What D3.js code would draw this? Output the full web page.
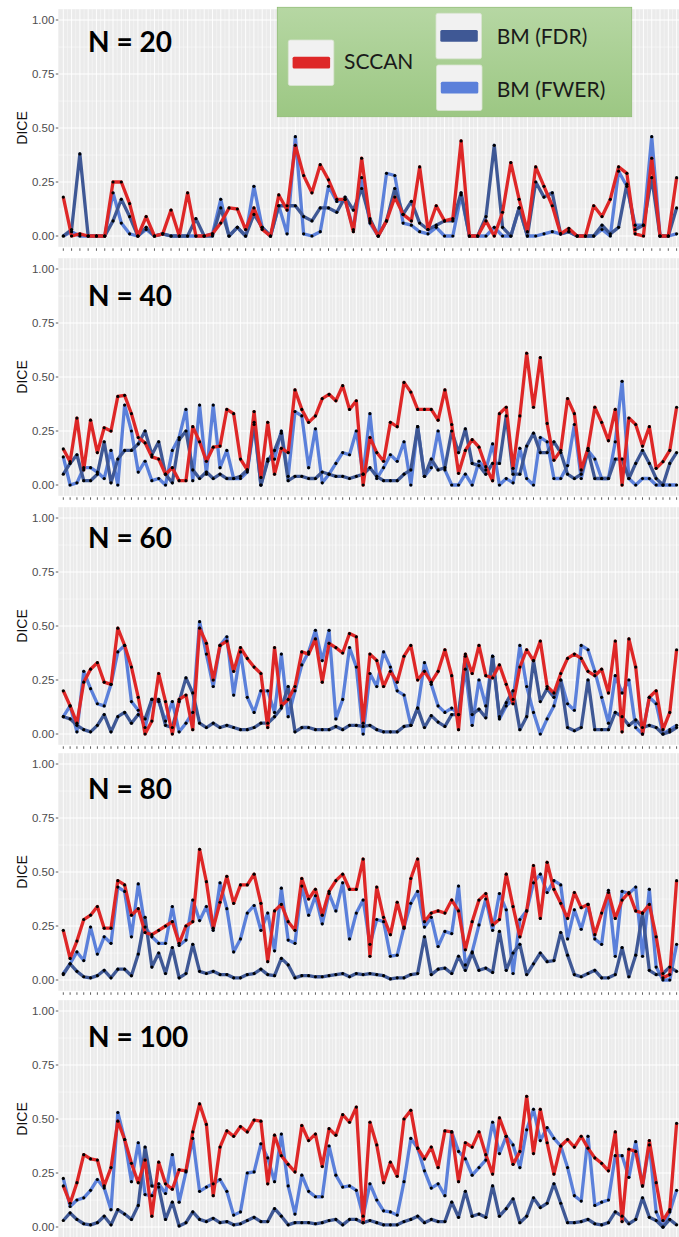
<!DOCTYPE html>
<html>
<head>
<meta charset="utf-8">
<script src="https://cdn.jsdelivr.net/npm/d3@7"></script>
<style>
  body { margin: 0; background: #fff; }
  svg { display: block; }
</style>
</head>
<body>
<div id="chart"></div>
<script>
const panelLabels = ["N = 20", "N = 40", "N = 60", "N = 80", "N = 100"];
const yTicks = [0, 0.25, 0.5, 0.75, 1];
const seriesNames = ["SCCAN", "BM (FDR)", "BM (FWER)"];

// N = 20 (75 runs)
const sccan20 = [0.18, 0, 0.01, 0, 0, 0, 0.25, 0.25, 0.15, 0, 0.09, 0, 0.01, 0.12, 0, 0.20, 0, 0, 0.01, 0.06, 0.13, 0.125, 0.03, 0.13, 0.03, 0, 0.19, 0.12, 0.42, 0.28, 0.20, 0.33, 0.26, 0.17,
  0.17, 0.02, 0.36, 0.07, 0, 0.07, 0.18, 0.10, 0.07, 0.32, 0.03, 0.14, 0.07, 0.08, 0.44, 0, 0, 0.07, 0, 0.11, 0.34, 0.17, 0.02, 0.32, 0.23, 0.14, 0.01, 0.035, 0, 0, 0.14, 0.09, 0.17, 0.32, 0.29, 0.01, 0, 0.36, 0, 0, 0.27];
const fdr20 = [0, 0.03, 0.38, 0, 0, 0, 0.07, 0.17, 0.09, 0, 0.04, 0, 0.01, 0, 0, 0, 0.08, 0, 0, 0.13, 0, 0.04, 0, 0.10, 0.04, 0, 0.14, 0.14, 0.14, 0.09, 0.07, 0.13, 0.13, 0.11,
  0.18, 0.12, 0.22, 0.08, 0, 0.07, 0.22, 0.10, 0.16, 0.06, 0.03, 0.05, 0.07, 0.07, 0.20, 0, 0, 0.09, 0.42, 0.04, 0, 0.13, 0, 0.25, 0.18, 0.20, 0.01, 0.02, 0, 0, 0, 0.05, 0.01, 0.04, 0.24, 0.03, 0.05, 0.27, 0, 0, 0.13];
const fwer20 = [0, 0.02, 0, 0, 0, 0, 0.20, 0.06, 0.01, 0, 0.03, 0, 0.01, 0, 0, 0, 0, 0, 0.01, 0.17, 0, 0.04, 0, 0.23, 0.04, 0, 0.14, 0.01, 0.46, 0.01, 0, 0.02, 0.23, 0.16,
  0.17, 0.03, 0.27, 0.06, 0, 0.29, 0.28, 0.06, 0.05, 0.02, 0.01, 0.04, 0, 0, 0.19, 0, 0, 0, 0.04, 0, 0, 0.13, 0, 0, 0.01, 0.02, 0.01, 0.02, 0, 0, 0, 0.03, 0, 0.30, 0.23, 0.05, 0.05, 0.46, 0, 0, 0.01];

// N = 40 (91 runs)
const sccan40 = [0.167, 0.108, 0.31, 0.07, 0.30, 0.15, 0.265, 0.25, 0.41, 0.415, 0.33, 0.22, 0.195, 0.13, 0.12, 0.05, 0.08, 0.02, 0.02, 0.27, 0.2, 0.11, 0.175, 0.18, 0.35, 0.33, 0.12, 0.07, 0.34, 0.035, 0.29, 0.05, 0.17, 0.15, 0.44, 0.35, 0.29, 0.32, 0.40, 0.42, 0.39,
  0.46, 0.35, 0.39, 0, 0.22, 0.15, 0.11, 0.29, 0.27, 0.475, 0.43, 0.35, 0.35, 0.35, 0.30, 0.44, 0.28, 0.054, 0.16, 0.21, 0.175, 0.085, 0.02, 0.33, 0.36, 0.077, 0.32, 0.61, 0.36, 0.59, 0.285, 0.115, 0.16, 0.40, 0.33, 0.07, 0.17, 0.36, 0.29, 0.205, 0.35, 0, 0.31, 0.28, 0.18, 0.27, 0.077, 0.108, 0.16, 0.36];
const fdr40 = [0.05, 0.1, 0.14, 0.02, 0.02, 0.05, 0.2, 0.01, 0.12, 0.16, 0.16, 0.19, 0.25, 0.14, 0.2, 0.05, 0.01, 0.21, 0.25, 0.07, 0.03, 0.06, 0.03, 0.05, 0.03, 0.03, 0.04, 0.07, 0.29, 0, 0.11, 0.16, 0.24, 0.02, 0.04, 0.04, 0.03, 0.03, 0.06, 0.05, 0.04,
  0.04, 0.03, 0.04, 0.05, 0.08, 0.04, 0.02, 0.02, 0.02, 0.05, 0.07, 0.27, 0.04, 0.12, 0.07, 0.08, 0.25, 0.15, 0.26, 0.1, 0.09, 0.05, 0.1, 0.1, 0.32, 0.05, 0.05, 0.18, 0.24, 0.15, 0.15, 0.2, 0.15, 0.05, 0.03, 0.05, 0.16, 0.03, 0.03, 0.03, 0.12, 0.12, 0.03, 0.1, 0.16, 0.1, 0.03, 0, 0.1, 0.15];
const fwer40 = [0.13, 0, 0.01, 0.08, 0.08, 0.06, 0.03, 0.16, 0, 0.37, 0.25, 0.06, 0.11, 0.02, 0.03, 0, 0.16, 0.22, 0.35, 0.02, 0.37, 0.05, 0.37, 0.08, 0.16, 0.03, 0.03, 0.06, 0.28, 0, 0.12, 0.12, 0.25, 0.04, 0.34, 0.32, 0.08, 0.26, 0.01, 0.05, 0.10,
  0.15, 0.14, 0.25, 0.05, 0.33, 0.03, 0.08, 0.14, 0.11, 0.2, 0, 0.27, 0.04, 0.08, 0.25, 0.07, 0, 0, 0.05, 0, 0.11, 0.07, 0.19, 0, 0.03, 0.01, 0.17, 0.03, 0, 0.22, 0.2, 0.03, 0.03, 0.09, 0.28, 0.03, 0.16, 0.12, 0.03, 0.03, 0.2, 0.48, 0.03, 0, 0.03, 0.03, 0, 0, 0, 0];

// N = 60
const sccan60 = [0.2, 0.13, 0.05, 0.24, 0.3, 0.33, 0.24, 0.23, 0.49, 0.41, 0.31, 0.17, 0, 0.06, 0.28, 0.15, 0, 0.16, 0.18, 0.02, 0.49, 0.42, 0.25, 0.41, 0.43, 0.29, 0.4, 0.35, 0.31, 0.28, 0.03, 0.4, 0.13, 0.16, 0.22, 0.38, 0.37, 0.44, 0.24, 0.42, 0.4,
  0.375, 0.465, 0.45, 0.05, 0.37, 0.34, 0.22, 0.29, 0.24, 0.36, 0.41, 0.25, 0.29, 0.24, 0.29, 0.39, 0.27, 0.02, 0.37, 0.28, 0.41, 0.27, 0.26, 0.32, 0.23, 0.14, 0.31, 0.39, 0.34, 0.43, 0.22, 0.19, 0.28, 0.35, 0.37, 0.35, 0.29, 0.27, 0.3, 0.19, 0.43, 0.01, 0.44, 0.31, 0, 0.17, 0.2, 0.02, 0.1, 0.39];
const fdr60 = [0.08, 0.07, 0.04, 0.02, 0.01, 0.04, 0.09, 0.01, 0.08, 0.1, 0.05, 0.09, 0.07, 0.16, 0.16, 0.04, 0.03, 0.15, 0.26, 0.19, 0.05, 0.03, 0.05, 0.03, 0.04, 0.03, 0.02, 0.02, 0.03, 0.05, 0.05, 0.08, 0.12, 0.22, 0.01, 0.03, 0.03, 0.02, 0.02, 0.02, 0.035,
  0.02, 0.04, 0.04, 0.035, 0.04, 0.02, 0.01, 0.01, 0.01, 0.035, 0.04, 0.12, 0.03, 0.085, 0.055, 0.035, 0.09, 0.09, 0.36, 0.09, 0.115, 0.075, 0.36, 0.08, 0.145, 0.2, 0.02, 0.08, 0.34, 0.15, 0.21, 0.17, 0.25, 0.03, 0.015, 0.03, 0.25, 0.02, 0.02, 0.02, 0.1, 0.08, 0.04, 0.065, 0.03, 0.04, 0.03, 0, 0.01, 0.03];
const fwer60 = [0.08, 0.13, 0.01, 0.29, 0.21, 0.14, 0.13, 0.23, 0.38, 0.41, 0.15, 0.11, 0.03, 0.16, 0.15, 0.06, 0.15, 0.01, 0.05, 0.1, 0.52, 0.37, 0.22, 0.41, 0.45, 0.18, 0.38, 0.17, 0.1, 0.2, 0.2, 0.1, 0.37, 0.08, 0.2, 0.32, 0.38, 0.48, 0.34, 0.48, 0.07,
  0.16, 0.40, 0.31, 0, 0.28, 0.22, 0.38, 0.31, 0.2, 0.18, 0.04, 0.12, 0.33, 0.23, 0.13, 0.1, 0.12, 0.09, 0.3, 0.04, 0.25, 0.13, 0.36, 0.07, 0.13, 0.16, 0.41, 0.22, 0.1, 0, 0.07, 0.13, 0.25, 0.14, 0.11, 0.41, 0.39, 0.29, 0.17, 0.05, 0.27, 0.19, 0.25, 0.03, 0, 0.17, 0.14, 0, 0.02, 0.04];

// N = 80
const sccan80 = [0.23, 0.1, 0.18, 0.28, 0.3, 0.34, 0.24, 0.24, 0.46, 0.44, 0.3, 0.33, 0.22, 0.21, 0.23, 0.25, 0.27, 0.17, 0.25, 0.27, 0.605, 0.455, 0.24, 0.36, 0.48, 0.355, 0.44, 0.44, 0.49, 0.355, 0.085, 0.32, 0.35, 0.27, 0.23, 0.47, 0.375, 0.42, 0.3, 0.41, 0.46,
  0.49, 0.42, 0.42, 0.56, 0.11, 0.43, 0.29, 0.21, 0.36, 0.24, 0.47, 0.56, 0.27, 0.31, 0.32, 0.31, 0.37, 0.32, 0.14, 0.27, 0.37, 0.4, 0.255, 0.28, 0.49, 0.34, 0.2, 0.32, 0.53, 0.285, 0.545, 0.42, 0.355, 0.285, 0.405, 0.335, 0.35, 0.21, 0.31, 0.405, 0.285, 0.37, 0.405, 0.32, 0.31, 0.35, 0.2, 0.01, 0.025, 0.46];
const fdr80 = [0.025, 0.075, 0.04, 0.015, 0.01, 0.02, 0.045, 0.01, 0.05, 0.05, 0.02, 0.12, 0.29, 0.06, 0.125, 0.03, 0.15, 0.01, 0.03, 0.165, 0.04, 0.03, 0.04, 0.025, 0.025, 0.01, 0.01, 0.025, 0.03, 0.05, 0.025, 0.02, 0.1, 0.07, 0.01, 0.02, 0.02, 0.015, 0.015, 0.02, 0.025,
  0.03, 0.015, 0.03, 0.025, 0.03, 0.025, 0.02, 0.005, 0.01, 0.01, 0.025, 0.03, 0.2, 0.025, 0.05, 0.055, 0.03, 0.11, 0.045, 0.125, 0.045, 0.055, 0.035, 0.225, 0.045, 0.125, 0.165, 0.025, 0.075, 0.125, 0.085, 0.09, 0.22, 0.115, 0.025, 0.015, 0.03, 0.045, 0.01, 0.01, 0.025, 0.15, 0.015, 0.115, 0.31, 0.045, 0.025, 0.03, 0.06, 0.04];
const fwer80 = [0.03, 0.075, 0.13, 0.09, 0.245, 0.12, 0.2, 0.17, 0.43, 0.41, 0.2, 0.445, 0.245, 0.2, 0.17, 0.17, 0.34, 0.16, 0.185, 0.37, 0.275, 0.34, 0.23, 0.45, 0.33, 0.13, 0.19, 0.31, 0.345, 0.23, 0.31, 0.135, 0.425, 0.185, 0.17, 0.435, 0.3, 0.39, 0.26, 0.4, 0.32,
  0.45, 0.19, 0.31, 0.37, 0.165, 0.28, 0.27, 0.11, 0.115, 0.245, 0.355, 0.41, 0.245, 0.29, 0.155, 0.225, 0.215, 0.435, 0.07, 0.13, 0.255, 0.375, 0.23, 0.4, 0.325, 0.03, 0.28, 0.32, 0.45, 0.49, 0.405, 0.46, 0.44, 0.19, 0.325, 0.235, 0.35, 0.19, 0.165, 0.415, 0.11, 0.41, 0.4, 0.43, 0.11, 0.42, 0.06, 0, 0, 0.165];

// N = 100
const sccan100 = [0.19, 0.11, 0.205, 0.335, 0.315, 0.31, 0.19, 0.275, 0.49, 0.405, 0.295, 0.205, 0.31, 0.05, 0.3, 0.2, 0.175, 0.265, 0.26, 0.44, 0.57, 0.475, 0.145, 0.37, 0.445, 0.42, 0.465, 0.44, 0.495, 0.49, 0.2, 0.425, 0.33, 0.29, 0.255, 0.47, 0.4, 0.43, 0.28, 0.455, 0.425,
  0.52, 0.485, 0.555, 0.02, 0.485, 0.38, 0.205, 0.3, 0.235, 0.5, 0.54, 0.365, 0.315, 0.37, 0.275, 0.445, 0.44, 0.21, 0.39, 0.37, 0.44, 0.335, 0.245, 0.505, 0.42, 0.29, 0.35, 0.605, 0.34, 0.545, 0.39, 0.245, 0.375, 0.405, 0.37, 0.42, 0.365, 0.32, 0.295, 0.26, 0.44, 0.025, 0.36, 0.35, 0.19, 0.4, 0.205, 0.03, 0.08, 0.48];
const fdr100 = [0.03, 0.065, 0.035, 0.015, 0.01, 0.02, 0.05, 0.01, 0.08, 0.06, 0.035, 0.1, 0.37, 0.19, 0.185, 0.035, 0.115, 0.005, 0.02, 0.07, 0.035, 0.025, 0.04, 0.02, 0.025, 0.01, 0.015, 0.03, 0.045, 0.025, 0.025, 0.085, 0.05, 0.01, 0.02, 0.02, 0.02, 0.015, 0.02, 0.03, 0.035,
  0.01, 0.035, 0.035, 0.02, 0.03, 0.02, 0.01, 0.01, 0.01, 0.025, 0.035, 0.05, 0.02, 0.035, 0.025, 0.025, 0.115, 0.045, 0.165, 0.05, 0.06, 0.045, 0.19, 0.05, 0.085, 0.13, 0.02, 0.05, 0.135, 0.09, 0.11, 0.2, 0.11, 0.02, 0.02, 0.025, 0.035, 0.015, 0.01, 0.02, 0.07, 0.05, 0.015, 0.035, 0.135, 0.045, 0.03, 0, 0.035, 0.01];
const fwer100 = [0.225, 0.095, 0.125, 0.135, 0.17, 0.22, 0.18, 0.08, 0.53, 0.405, 0.21, 0.39, 0.15, 0.145, 0.2, 0.155, 0.335, 0.115, 0.255, 0.41, 0.165, 0.185, 0.2, 0.22, 0.165, 0.055, 0.07, 0.25, 0.255, 0.385, 0.32, 0.21, 0.43, 0.19, 0.06, 0.24, 0.165, 0.14, 0.14, 0.375, 0.24,
  0.185, 0.19, 0.17, 0.05, 0.2, 0.125, 0.075, 0.07, 0.055, 0.21, 0.41, 0.365, 0.26, 0.18, 0.2, 0.145, 0.44, 0.35, 0.315, 0.24, 0.275, 0.31, 0.485, 0.34, 0.42, 0.38, 0.275, 0.45, 0.545, 0.4, 0.46, 0.41, 0.375, 0.275, 0.145, 0.12, 0.42, 0.1, 0.115, 0.125, 0.33, 0.33, 0.23, 0.395, 0.19, 0.38, 0.07, 0, 0.07, 0.17];

const colors = { sccan: "#de2727", fdr: "#3f5895", fwer: "#5b80da" };

// layout: pixel row of DICE = 0 for each panel, and title baselines
const panelZero = [236, 485, 734, 980, 1227];
const titleBaseline = [52, 306, 548, 799, 1047];
const plotLeft = 58.3, plotRight = 684;
const unit = 216;

const svg = d3.select("#chart")
    .append("svg")
    .attr("width", 679)
    .attr("height", 1237);

function CreateXScale(n) {
    return d3.scaleLinear()
        .domain([0, n - 1])
        .range([63.3, 676.6]);
};

function CreateYScale(zero) {
    return d3.scaleLinear()
        .domain([0, 1])
        .range([zero, zero - unit]);
};

function DrawPanel(panel, i) {
    const n = panel.sccan.length;
    const x = CreateXScale(n);
    const y = CreateYScale(panelZero[i]);
    const g = svg.append("g");
    const top = y(1.05), bottom = y(-0.05);

    g.append("rect")
        .attr("x", plotLeft)
        .attr("y", top)
        .attr("width", plotRight - plotLeft)
        .attr("height", bottom - top)
        .attr("fill", "#ebebeb");

    // minor grid (between breaks)
    const yMinor = d3.pairs(yTicks).map(([a, b]) => (a + b) / 2);
    g.selectAll(".hMinor")
        .data(yMinor)
        .join("line")
        .attr("x1", plotLeft).attr("x2", plotRight)
        .attr("y1", d => y(d)).attr("y2", d => y(d))
        .attr("stroke", "#fafafa")
        .attr("stroke-width", 0.6);

    const idx = d3.range(n);
    g.selectAll(".vMinor")
        .data(idx.slice(0, -1))
        .join("line")
        .attr("x1", d => x(d + 0.5)).attr("x2", d => x(d + 0.5))
        .attr("y1", top).attr("y2", bottom)
        .attr("stroke", "#f8f8f8")
        .attr("stroke-width", 0.6);

    g.selectAll(".vMajor")
        .data(idx)
        .join("line")
        .attr("x1", d => x(d)).attr("x2", d => x(d))
        .attr("y1", top).attr("y2", bottom)
        .attr("stroke", "#ffffff")
        .attr("stroke-width", 0.9);

    g.selectAll(".hMajor")
        .data(yTicks)
        .join("line")
        .attr("x1", plotLeft).attr("x2", plotRight)
        .attr("y1", d => y(d)).attr("y2", d => y(d))
        .attr("stroke", "#ffffff")
        .attr("stroke-width", 1.1);

    // axis ticks
    g.selectAll(".xTick")
        .data(idx)
        .join("line")
        .attr("x1", d => x(d)).attr("x2", d => x(d))
        .attr("y1", bottom + 1.5).attr("y2", bottom + 4)
        .attr("stroke", "#333")
        .attr("stroke-width", 0.8);

    g.selectAll(".yTick")
        .data(yTicks)
        .join("line")
        .attr("x1", plotLeft - 2.5).attr("x2", plotLeft)
        .attr("y1", d => y(d)).attr("y2", d => y(d))
        .attr("stroke", "#333")
        .attr("stroke-width", 0.8);

    g.selectAll(".yLabel")
        .data(yTicks)
        .join("text")
        .attr("x", plotLeft - 4)
        .attr("y", d => y(d))
        .attr("dy", "0.35em")
        .attr("text-anchor", "end")
        .style("font-family", "'Liberation Sans', Arial, sans-serif")
        .style("font-size", "11.5px")
        .attr("fill", "#4d4d4d")
        .text(d => d3.format(".2f")(d));

    g.append("text")
        .attr("transform", `translate(27, ${y(0.5)}) rotate(-90)`)
        .attr("text-anchor", "middle")
        .style("font-family", "'Liberation Sans', Arial, sans-serif")
        .style("font-size", "14px")
        .attr("fill", "#111")
        .text("DICE");

    const line = d3.line()
        .x((d, j) => x(j))
        .y(d => y(d));

    [["fwer", panel.fwer], ["fdr", panel.fdr], ["sccan", panel.sccan]].forEach(([key, values]) => {
        g.append("path")
            .datum(values)
            .attr("fill", "none")
            .attr("stroke", colors[key])
            .attr("stroke-width", 3.3)
            .attr("stroke-linejoin", "round")
            .attr("d", line);
    });

    [panel.fwer, panel.fdr, panel.sccan].forEach(values => {
        g.selectAll(null)
            .data(values)
            .join("circle")
            .attr("cx", (d, j) => x(j))
            .attr("cy", d => y(d))
            .attr("r", 1.6)
            .attr("fill", "#000");
    });

    g.append("text")
        .attr("x", 88)
        .attr("y", titleBaseline[i])
        .style("font-family", "Lato, 'Open Sans', sans-serif")
        .style("font-weight", "bold")
        .style("font-size", "28px")
        .attr("fill", "#000")
        .text(panel.label);
};

const panels = [
    { label: panelLabels[0], sccan: sccan20, fdr: fdr20, fwer: fwer20 },
    { label: panelLabels[1], sccan: sccan40, fdr: fdr40, fwer: fwer40 },
    { label: panelLabels[2], sccan: sccan60, fdr: fdr60, fwer: fwer60 },
    { label: panelLabels[3], sccan: sccan80, fdr: fdr80, fwer: fwer80 },
    { label: panelLabels[4], sccan: sccan100, fdr: fdr100, fwer: fwer100 }
];

panels.forEach((p, i) => DrawPanel(p, i));

function DrawLegend() {
    const defs = svg.append("defs");
    const grad = defs.append("linearGradient")
        .attr("id", "legendFill")
        .attr("x1", 0).attr("y1", 0).attr("x2", 0).attr("y2", 1);
    grad.append("stop").attr("offset", "0%").attr("stop-color", "#b6d7a3");
    grad.append("stop").attr("offset", "100%").attr("stop-color", "#9cc783");

    const lg = svg.append("g");
    lg.append("rect")
        .attr("x", 277.3).attr("y", 7.3)
        .attr("width", 354.4).attr("height", 109.4)
        .attr("fill", "url(#legendFill)")
        .attr("stroke", "#8fbb74")
        .attr("stroke-width", 0.8);

    const keys = [
        { name: seriesNames[0], key: "sccan", bx: 288.3, by: 40, tx: 344, ty: 61.7 },
        { name: seriesNames[1], key: "fdr", bx: 436, by: 13.3, tx: 496.7, ty: 36.7 },
        { name: seriesNames[2], key: "fwer", bx: 436.5, by: 65, tx: 496.7, ty: 90 }
    ];

    keys.forEach(k => {
        lg.append("rect")
            .attr("x", k.bx).attr("y", k.by)
            .attr("width", 45.5).attr("height", 45.5)
            .attr("rx", 2)
            .attr("fill", "#f1f1f1")
            .attr("stroke", "#d9e4d2")
            .attr("stroke-width", 0.8);
        lg.append("rect")
            .attr("x", k.bx + 4.3).attr("y", k.by + 16.8)
            .attr("width", 37.5).attr("height", 11.6)
            .attr("rx", 1.5)
            .attr("fill", colors[k.key]);
        lg.append("text")
            .attr("x", k.tx).attr("y", k.ty)
            .attr("dy", "0.35em")
            .style("font-family", "Lato, 'Open Sans', sans-serif")
            .style("font-size", "21px")
            .attr("fill", "#1a1a1a")
            .text(k.name);
    });
};

DrawLegend();
</script>
</body>
</html>
